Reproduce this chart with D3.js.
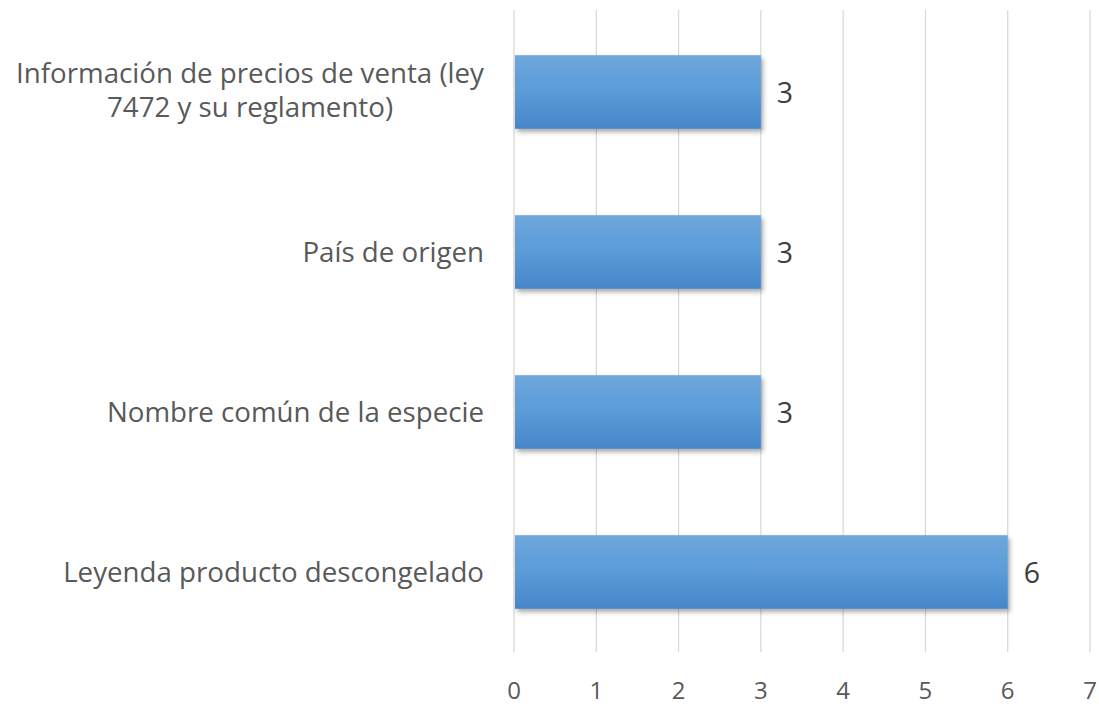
<!DOCTYPE html>
<html>
<head>
<meta charset="utf-8">
<script src="https://cdn.jsdelivr.net/npm/d3@7"></script>
<style>
  body { margin: 0; background: #fff; overflow: hidden; }
  svg { display: block; }
  text { font-family: "Open Sans", sans-serif; }
</style>
</head>
<body>
<svg id="chart"></svg>
<script>
var w = 1099;
var h = 707;

// data
var categories = [
  "Información de precios de venta (ley 7472 y su reglamento)",
  "País de origen",
  "Nombre común de la especie",
  "Leyenda producto descongelado"
];
var values = [3, 3, 3, 6];
var ticks = [0, 1, 2, 3, 4, 5, 6, 7];

var margin = {top: 12, right: 9, bottom: 55, left: 514};

var svg = d3.select('#chart').attr('width', w).attr('height', h);

var defs = svg.append('defs');
var grad = defs.append('linearGradient')
  .attr('id', 'barGrad')
  .attr('x1', 0).attr('y1', 0).attr('x2', 0).attr('y2', 1);
grad.append('stop').attr('offset', '0%').attr('stop-color', '#6fa7dc');
grad.append('stop').attr('offset', '50%').attr('stop-color', '#5a9bd8');
grad.append('stop').attr('offset', '100%').attr('stop-color', '#4586c9');

var shadow = defs.append('filter').attr('id', 'shadow')
  .attr('x', '-5%').attr('y', '-10%').attr('width', '115%').attr('height', '130%');
shadow.append('feDropShadow')
  .attr('dx', 2).attr('dy', 3).attr('stdDeviation', 2.5)
  .attr('flood-color', '#000').attr('flood-opacity', 0.35);

var x = d3.scaleLinear()
  .domain([0, 7])
  .range([margin.left, w - margin.right]);

var y = d3.scaleBand()
  .domain(categories)
  .range([margin.top, h - margin.bottom])
  .paddingInner(0.54)
  .paddingOuter(0.27);

// gridlines
svg.append('g')
  .selectAll('line')
  .data(ticks)
  .enter()
  .append('line')
  .attr('x1', function (d) { return x(d); })
  .attr('x2', function (d) { return x(d); })
  .attr('y1', margin.top - 2)
  .attr('y2', h - margin.bottom)
  .attr('stroke', '#d9d9d9')
  .attr('stroke-width', 1.3);

// tick labels
svg.append('g')
  .selectAll('text')
  .data(ticks)
  .enter()
  .append('text')
  .attr('x', function (d) { return x(d); })
  .attr('y', 699)
  .attr('text-anchor', 'middle')
  .attr('font-size', '24px')
  .attr('fill', '#595959')
  .text(function (d) { return d; });

// bars
svg.append('g')
  .selectAll('rect')
  .data(values)
  .enter()
  .append('rect')
  .attr('x', x(0) + 1)
  .attr('y', function (d, i) { return y(categories[i]); })
  .attr('width', function (d) { return x(d) - x(0) - 1; })
  .attr('height', y.bandwidth())
  .attr('fill', 'url(#barGrad)')
  .attr('filter', 'url(#shadow)');

// value labels
svg.append('g')
  .selectAll('text')
  .data(values)
  .enter()
  .append('text')
  .attr('x', function (d) { return x(d) + 16; })
  .attr('y', function (d, i) { return y(categories[i]) + y.bandwidth() / 2 + 10.5; })
  .attr('font-size', '28.5px')
  .attr('fill', '#404040')
  .text(function (d) { return d; });

// category labels, wrapped and centered like Excel does
var fs = '27.7px';
var maxW = 480;
var catG = svg.append('g');
categories.forEach(function (c, i) {
  var words = c.split(' ');
  var lines = [];
  var line = [];
  var probe = catG.append('text').attr('font-size', fs);
  words.forEach(function (wd) {
    line.push(wd);
    probe.text(line.join(' '));
    if (probe.node().getComputedTextLength() > maxW && line.length > 1) {
      line.pop();
      lines.push(line.join(' '));
      line = [wd];
    }
  });
  lines.push(line.join(' '));
  var widest = 0;
  lines.forEach(function (l) {
    probe.text(l);
    widest = Math.max(widest, probe.node().getComputedTextLength());
  });
  probe.remove();

  var cy = y(c) + y.bandwidth() / 2;
  var lh = 34;
  var t = catG.append('text')
    .attr('text-anchor', 'middle')
    .attr('font-size', fs)
    .attr('fill', '#595959');
  lines.forEach(function (l, k) {
    t.append('tspan')
      .attr('x', 484 - widest / 2)
      .attr('y', cy + (lines.length > 1 ? 8 : 9.5) + (k - (lines.length - 1) / 2) * lh)
      .text(l);
  });
});
</script>
</body>
</html>
